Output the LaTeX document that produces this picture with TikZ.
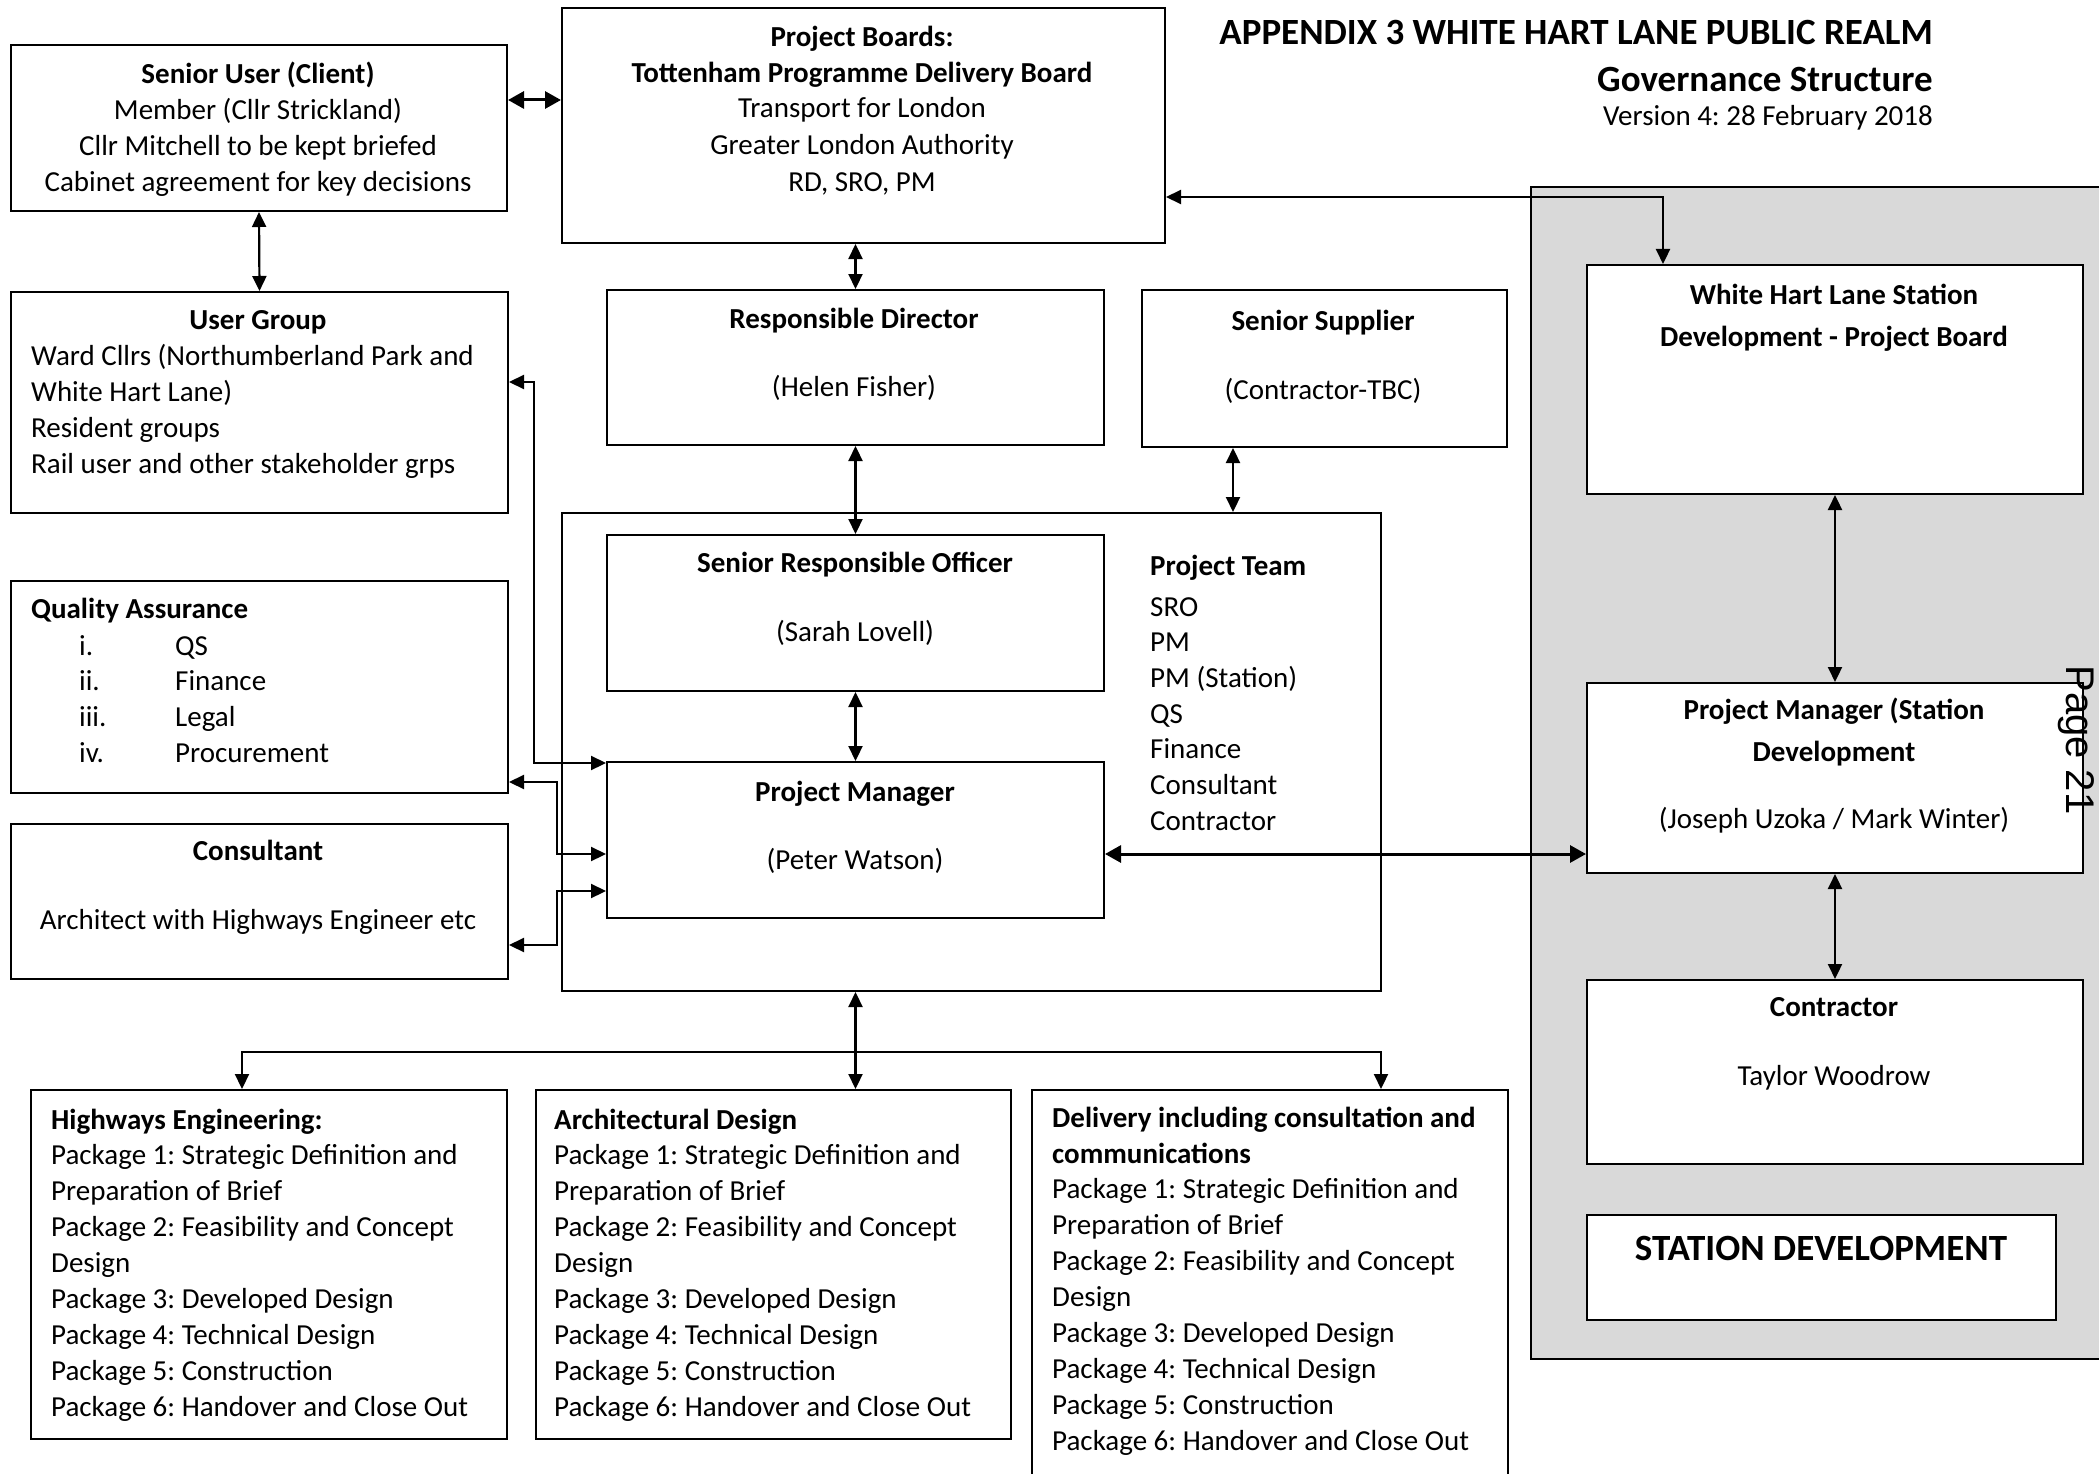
\documentclass[tikz,border=0pt]{standalone}
\usepackage{fontspec}
\setmainfont{Carlito}
\newfontfamily\pagefont{Liberation Sans}
\usetikzlibrary{arrows.meta}
\definecolor{panel}{HTML}{D9D9D9}
\frenchspacing
\begin{document}
\begin{tikzpicture}[x=1pt,y=-1pt,
 box/.style={draw, line width=2pt, fill=white, inner sep=0pt, anchor=north west},
 t/.style={font=\fontsize{29}{36}\selectfont, inner sep=0pt},
 tb/.style={font=\fontsize{29}{36}\selectfont\bfseries, inner sep=0pt},
 tt/.style={font=\fontsize{37}{44}\selectfont\bfseries, inner sep=0pt},
 arr/.style={line width=2.2pt, >={Triangle[length=15pt,width=14pt]}, <->},
 arrb/.style={line width=3pt, >={Triangle[length=16pt,width=17pt]}, <->},
]
\useasboundingbox (0,0) rectangle (2099,1474);
\clip (0,0) rectangle (2099,1474);

% grey station panel
\node[box, fill=panel, minimum width=600pt, minimum height=1172pt] (panel) at (1530,186) {};

% boxes
\node[box, minimum width=496pt, minimum height=166pt] (su) at (10,44) {};
\node[box, minimum width=603pt, minimum height=235pt] (pb) at (561,7) {};
\node[box, minimum width=497pt, minimum height=221pt] (ug) at (10,291) {};
\node[box, minimum width=497pt, minimum height=212pt] (qa) at (10,580) {};
\node[box, minimum width=497pt, minimum height=155pt] (con) at (10,823) {};
\node[box, minimum width=497pt, minimum height=155pt] (rd) at (606,289) {};
\node[box, minimum width=365pt, minimum height=157pt] (ss) at (1141,289) {};
\node[box, minimum width=819pt, minimum height=478pt] (pt) at (561,512) {};
\node[box, minimum width=497pt, minimum height=156pt] (sro) at (606,534) {};
\node[box, minimum width=497pt, minimum height=156pt] (pm) at (606,761) {};
\node[box, minimum width=496pt, minimum height=229pt] (whl) at (1586,264) {};
\node[box, minimum width=496pt, minimum height=190pt] (pms) at (1586,682) {};
\node[box, minimum width=496pt, minimum height=184pt] (ctr) at (1586,979) {};
\node[box, minimum width=469pt, minimum height=105pt] (sd) at (1586,1214) {};
\node[box, minimum width=476pt, minimum height=349pt] (hw) at (30,1089) {};
\node[box, minimum width=475pt, minimum height=349pt] (ar) at (535,1089) {};
\node[box, minimum width=476pt, minimum height=411pt] (dl) at (1031,1089) {};

% title
\node[tt, anchor=base east] (title1) at (1933,45) {APPENDIX 3 WHITE HART LANE PUBLIC REALM};
\node[tt, anchor=base east] (title2) at (1933,92) {Governance Structure};
\node[t, anchor=base east] (title3) at (1933,126) {Version 4: 28 February 2018};

% senior user
\node[tb, anchor=base] (su1) at (258,84) {Senior User (Client)};
\node[t, anchor=base] (su2) at (258,120) {Member (Cllr Strickland)};
\node[t, anchor=base] (su3) at (258,156) {Cllr Mitchell to be kept briefed};
\node[t, anchor=base] (su4) at (258,192) {Cabinet agreement for key decisions};

% project boards
\node[tb, anchor=base] (pb1) at (862,47) {Project Boards:};
\node[tb, anchor=base] (pb2) at (862,83) {Tottenham Programme Delivery Board};
\node[t, anchor=base] (pb3) at (862,118) {Transport for London};
\node[t, anchor=base] (pb4) at (862,155) {Greater London Authority};
\node[t, anchor=base] (pb5) at (862,192) {RD, SRO, PM};

% user group
\node[tb, anchor=base] (ug0) at (258,329) {User Group};
\foreach \s [count=\i from 0] in {Ward Cllrs (Northumberland Park and, White Hart Lane), Resident groups, Rail user and other stakeholder grps}
  \node[t, anchor=base west] (ug\i) at (31,{365+36*\i}) {\s};

% quality assurance
\node[tb, anchor=base west] (qa0) at (31,618) {Quality Assurance};
\foreach \n/\s [count=\i from 0] in {i./QS, ii./Finance, iii./Legal, iv./Procurement}{
  \node[t, anchor=base west] (qan\i) at (79,{655+35.7*\i}) {\n};
  \node[t, anchor=base west] (qas\i) at (175,{655+35.7*\i}) {\s};
}

% consultant
\node[tb, anchor=base] (con1) at (258,860) {Consultant};
\node[t, anchor=base] (con2) at (258,929) {Architect with Highways Engineer etc};

% responsible director, supplier, SRO, PM
\node[tb, anchor=base] (rd1) at (854,328) {Responsible Director};
\node[t, anchor=base] (rd2) at (854,396) {(Helen Fisher)};
\node[tb, anchor=base] (ss1) at (1323,330) {Senior Supplier};
\node[t, anchor=base] (ss2) at (1323,399) {(Contractor-TBC)};
\node[tb, anchor=base] (sro1) at (855,572) {Senior Responsible Officer};
\node[t, anchor=base] (sro2) at (855,641) {(Sarah Lovell)};
\node[tb, anchor=base] (pm1) at (855,801) {Project Manager};
\node[t, anchor=base] (pm2) at (855,869) {(Peter Watson)};

% project team
\node[tb, anchor=base west] (pt0) at (1150,575) {Project Team};
\foreach \s [count=\i from 0] in {SRO, PM, PM (Station), QS, Finance, Consultant, Contractor}
  \node[t, anchor=base west] (ptl\i) at (1150,{616+35.7*\i}) {\s};

% station side
\node[tb, anchor=base] (whl1) at (1834,304) {White Hart Lane Station};
\node[tb, anchor=base] (whl2) at (1834,346) {Development - Project Board};
\node[tb, anchor=base] (pms1) at (1834,719) {Project Manager (Station};
\node[tb, anchor=base] (pms2) at (1834,761) {Development};
\node[t, anchor=base] (pms3) at (1834,828) {(Joseph Uzoka / Mark Winter)};
\node[tb, anchor=base] (ctr1) at (1834,1016) {Contractor};
\node[t, anchor=base] (ctr2) at (1834,1085) {Taylor Woodrow};
\node[tt, anchor=base] (sd1) at (1821,1260) {STATION DEVELOPMENT};

% work packages
\node[tb, anchor=base west] (hw0) at (51,1129) {Highways Engineering:};
\node[tb, anchor=base west] (ar0) at (554,1129) {Architectural Design};
\node[tb, anchor=base west] (dl0) at (1052,1127) {Delivery including consultation and};
\node[tb, anchor=base west] (dl1) at (1052,1163) {communications};
\foreach \s [count=\i from 1] in {Package 1: Strategic Definition and, Preparation of Brief, Package 2: Feasibility and Concept, Design, Package 3: Developed Design, Package 4: Technical Design, Package 5: Construction, Package 6: Handover and Close Out}{
  \node[t, anchor=base west] (hwl\i) at (51,{1129+35.9*\i}) {\s};
  \node[t, anchor=base west] (arl\i) at (554,{1129+35.9*\i}) {\s};
  \node[t, anchor=base west] (dll\i) at (1052,{1163+35.9*\i}) {\s};
}

% page stamp
\node[font=\pagefont\fontsize{40}{48}\selectfont, rotate=-90, inner sep=0pt] (page) at (2076,740) {Page 21};

% connectors
\draw[arrb] (su.east |- 0,100) -- (pb.west |- 0,100);
\draw[arr] (su.south) -- (ug.north);
\draw[arr] (rd.north |- pb.south) -- (rd.north);
\draw[arr] (rd.south) -- (sro.north);
\draw[arr] (1233,0 |- ss.south) -- (1233,0 |- pt.north);
\draw[arr] (sro.south) -- (pm.north);
\draw[arrb] (pm.east |- 0,854) -- (pms.west |- 0,854);
\draw[arr] (pb.east |- 0,197) -| (1663,0 |- whl.north);
\draw[arr] (whl.south) -- (pms.north);
\draw[arr] (pms.south) -- (ctr.north);
\draw[arr] (ug.east |- 0,382) -| (534,763) -- (pm.west |- 0,763);
\draw[arr] (qa.east |- 0,782) -| (557,854) -- (pm.west |- 0,854);
\draw[arr] (con.east |- 0,945) -| (557,891) -- (pm.west |- 0,891);
\draw[arr] (sro.south |- pt.south) -- (sro.south |- ar.north);
\draw[arr] (242,0 |- hw.north) |- (1381,1052) -- (1381,0 |- dl.north);
\end{tikzpicture}
\end{document}
